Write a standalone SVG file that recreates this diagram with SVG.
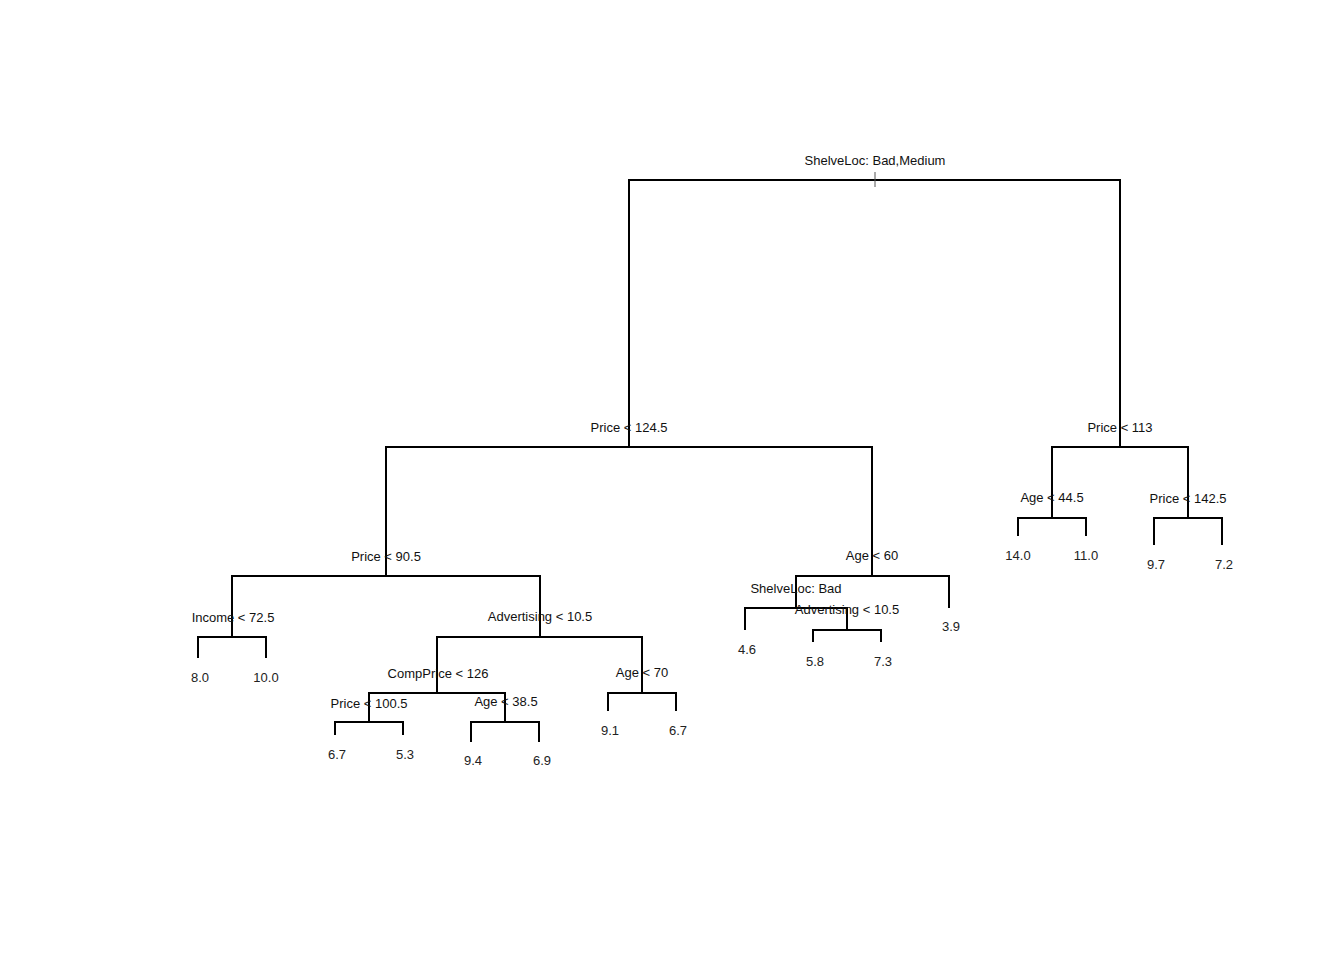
<svg xmlns="http://www.w3.org/2000/svg" width="1344" height="960" viewBox="0 0 1344 960">
<style>
.e{fill:none;stroke:#000;stroke-width:2;stroke-linecap:butt;stroke-linejoin:miter}
text{font-family:"Liberation Sans",Arial,sans-serif;font-size:13px;fill:#111;text-anchor:middle;dominant-baseline:central}
.leaf{fill:#222}
</style>
<rect width="1344" height="960" fill="#fff"/>
<g id="connectors">
<path class="e" d="M629,447 V180 H1120 V447"/>
<line x1="875" y1="172" x2="875" y2="187" stroke="#555" stroke-width="1"/>
<path class="e" d="M386,576 V447 H872 V576"/>
<path class="e" d="M1052,518 V447 H1188 V518"/>
<path class="e" d="M1018,536 V518 H1086 V536"/>
<path class="e" d="M1154,545 V518 H1222 V545"/>
<path class="e" d="M232,637 V576 H540 V637"/>
<path class="e" d="M796,608 V576 H949 V608"/>
<path class="e" d="M745,630 V608 H847 V630"/>
<path class="e" d="M813,642 V630 H881 V642"/>
<path class="e" d="M198,658 V637 H266 V658"/>
<path class="e" d="M437,693 V637 H642 V693"/>
<path class="e" d="M608,711 V693 H676 V711"/>
<path class="e" d="M369,722 V693 H505 V722"/>
<path class="e" d="M335,735 V722 H403 V735"/>
<path class="e" d="M471,742 V722 H539 V742"/>
</g>
<g id="n-root"><text x="875" y="160">ShelveLoc: Bad,Medium</text></g>
<g id="n-price1245"><text x="629" y="427">Price &lt; 124.5</text></g>
<g id="n-price113"><text x="1120" y="427">Price &lt; 113</text></g>
<g id="n-age445"><text x="1052" y="497">Age &lt; 44.5</text></g>
<g id="n-price1425"><text x="1188" y="498">Price &lt; 142.5</text></g>
<g id="l-140"><text class="leaf" x="1018" y="555">14.0</text></g>
<g id="l-110"><text class="leaf" x="1086" y="555">11.0</text></g>
<g id="l-97"><text class="leaf" x="1156" y="564">9.7</text></g>
<g id="l-72"><text class="leaf" x="1224" y="564">7.2</text></g>
<g id="n-price905"><text x="386" y="556">Price &lt; 90.5</text></g>
<g id="n-age60"><text x="872" y="555">Age &lt; 60</text></g>
<g id="n-shelvebad"><text x="796" y="588">ShelveLoc: Bad</text></g>
<g id="n-adv105b"><text x="847" y="609">Advertising &lt; 10.5</text></g>
<g id="l-39"><text class="leaf" x="951" y="626">3.9</text></g>
<g id="l-46"><text class="leaf" x="747" y="649">4.6</text></g>
<g id="l-58"><text class="leaf" x="815" y="661">5.8</text></g>
<g id="l-73"><text class="leaf" x="883" y="661">7.3</text></g>
<g id="n-income"><text x="233" y="617">Income &lt; 72.5</text></g>
<g id="n-adv105a"><text x="540" y="616">Advertising &lt; 10.5</text></g>
<g id="l-80"><text class="leaf" x="200" y="677">8.0</text></g>
<g id="l-100"><text class="leaf" x="266" y="677">10.0</text></g>
<g id="n-comp126"><text x="438" y="673">CompPrice &lt; 126</text></g>
<g id="n-age70"><text x="642" y="672">Age &lt; 70</text></g>
<g id="l-91"><text class="leaf" x="610" y="730">9.1</text></g>
<g id="l-67b"><text class="leaf" x="678" y="730">6.7</text></g>
<g id="n-price1005"><text x="369" y="703">Price &lt; 100.5</text></g>
<g id="n-age385"><text x="506" y="701">Age &lt; 38.5</text></g>
<g id="l-67a"><text class="leaf" x="337" y="754">6.7</text></g>
<g id="l-53"><text class="leaf" x="405" y="754">5.3</text></g>
<g id="l-94"><text class="leaf" x="473" y="760">9.4</text></g>
<g id="l-69"><text class="leaf" x="542" y="760">6.9</text></g>
</svg>
